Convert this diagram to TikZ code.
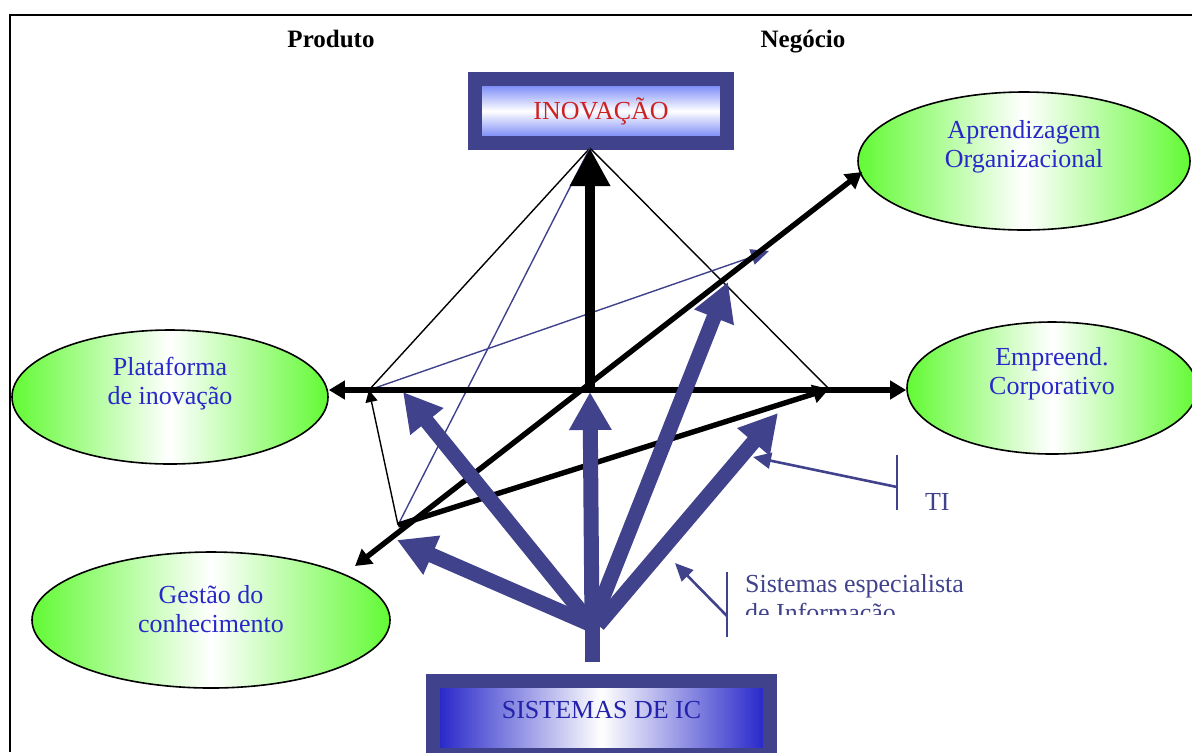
\documentclass[tikz,border=0pt]{standalone}
\usepackage{fontspec}
\setmainfont{Liberation Serif}
\usetikzlibrary{shapes.geometric,arrows.meta}

\definecolor{navy}{RGB}{64,66,140}
\definecolor{ovalgreen}{RGB}{98,250,52}
\definecolor{ovaltxt}{RGB}{40,40,200}
\definecolor{inovblue}{RGB}{92,112,245}
\definecolor{inovred}{RGB}{204,34,34}
\definecolor{sysblue}{RGB}{32,32,200}
\definecolor{systxt}{RGB}{34,34,170}

\begin{document}
\begin{tikzpicture}[x=0.5pt,y=-0.5pt,
        oval/.style={ellipse, draw=black, line width=0.8pt, inner sep=0pt,
            left color=ovalgreen, right color=ovalgreen, middle color=white},
        ovaltext/.style={text=ovaltxt, align=center, font=\fontsize{13}{14.5}\selectfont},
        caixa/.style={draw=navy, line width=7pt, inner sep=0pt},
        titulo/.style={anchor=base, font=\fontsize{12.5}{14}\selectfont\bfseries},
        nota/.style={text=navy, font=\fontsize{13}{14.5}\selectfont},
        seta/.style={draw=navy, line width=7.5pt, -{Triangle[width=20pt,length=19pt]}},
        preta/.style={line width=3pt, -{Triangle[width=9pt,length=8pt]}},
        fina/.style={line width=0.7pt},
        finaazul/.style={draw=navy, line width=0.7pt}]
        \useasboundingbox (0,0) rectangle (1192,752);

        \draw[line width=1.4pt] (10,752) -- (10,15) -- (1192,15);

        \node[titulo] (prod) at (331,47) {Produto};
        \node[titulo] (neg) at (803,47) {Negócio};

        % caixas
        \node[caixa, minimum width=126pt, minimum height=32pt, text=inovred,
            font=\fontsize{13}{14}\selectfont,
            top color=inovblue, bottom color=inovblue, middle color=white] (inov) at (601,111) {INOVAÇÃO};
        \node[caixa, minimum width=168.5pt, minimum height=37pt,
            left color=sysblue, right color=sysblue, middle color=white] (sys) at (601.5,718) {};
        \node[text=systxt, font=\fontsize{13}{14}\selectfont] (systxt) at ([yshift=4pt]sys.center) {SISTEMAS DE IC};

        % elipses
        \node[oval, minimum width=166pt, minimum height=69pt] (apr) at (1024,161) {};
        \node[ovaltext] (aprtxt) at ([yshift=7pt]apr.center) {Aprendizagem\\Organizacional};
        \node[oval, minimum width=145pt, minimum height=66pt] (emp) at (1052,388) {};
        \node[ovaltext] (emptxt) at ([yshift=7pt]emp.center) {Empreend.\\Corporativo};
        \node[oval, minimum width=158pt, minimum height=67pt] (pla) at (170,397) {};
        \node[ovaltext] (platxt) at ([yshift=6.5pt]pla.center) {Plataforma\\de inovação};
        \node[oval, minimum width=179pt, minimum height=68pt] (ges) at (211,620) {};
        \node[ovaltext] (gestxt) at ([yshift=5.5pt]ges.center) {Gestão do\\conhecimento};

        \coordinate (ctr) at (590,390);
        \coordinate (apex) at (590,148);
        \coordinate (lpt) at (369,390);
        \coordinate (rpt) at (829,389);
        \coordinate (llow) at (398,525);
        \coordinate (gestip) at (355,566);
        \coordinate (aprtip) at (862,172);
        \coordinate (azultip) at (769,251);
        \coordinate (fan) at (592,625);
        \coordinate (stem) at (592,662);

        % linhas finas
        \draw[fina] (apex) -- (lpt);
        \draw[fina] (apex) -- (rpt);
        \draw[fina, -{Triangle[width=6pt,length=6pt]}] (llow) -- (lpt);
        \draw[finaazul, -{Triangle[width=8pt,length=9pt]}] (lpt) -- (azultip);
        \draw[finaazul] (llow) -- (apex);

        % setas pretas
        \draw[preta, {Triangle[width=9pt,length=8pt]}-{Triangle[width=9pt,length=8pt]}] (pla.east |- ctr) -- (emp.west |- ctr);
        \draw[preta, line width=2.7pt, {Triangle[width=9pt,length=8pt]}-{Triangle[width=9pt,length=8pt]}] (gestip) -- (aprtip);
        \draw[preta, line width=2.7pt] (llow) -- (rpt);
        \draw[line width=5pt, -{Triangle[width=19pt,length=19pt]}] (ctr) -- (apex);

        % setas azuis
        \draw[draw=navy, line width=7.5pt] (stem) -- (fan);
        \draw[seta] (fan) -- (397,540);
        \draw[seta] (fan) -- (403,392);
        \draw[seta] (fan) -- (590,392);
        \draw[seta] (fan) -- (728,282);
        \draw[seta] ([xshift=3pt]fan) -- (778,413);

        % notas
        \coordinate (tibar) at (897,487);
        \draw[draw=navy, line width=1.3pt] (897,455) -- (897,510);
        \draw[draw=navy, line width=1.3pt, -{Triangle[width=8pt,length=9pt]}] (tibar) -- (753,457);
        \node[nota, anchor=base west] (ti) at (918,510) {TI};

        \coordinate (sisbar) at (727,616);
        \draw[draw=navy, line width=1.3pt] (727,572) -- (727,637);
        \draw[draw=navy, line width=1.3pt, -{Triangle[width=8pt,length=9pt]}] (sisbar) -- (675,563);
        \node[nota, anchor=base west] (sis1) at (738,592) {Sistemas especialista};
        \begin{scope}
            \clip (735,560) rectangle (1000,614);
            \node[nota, anchor=base west] (sis2) at (738,621) {de Informação};
        \end{scope}
    \end{tikzpicture}
\end{document}
